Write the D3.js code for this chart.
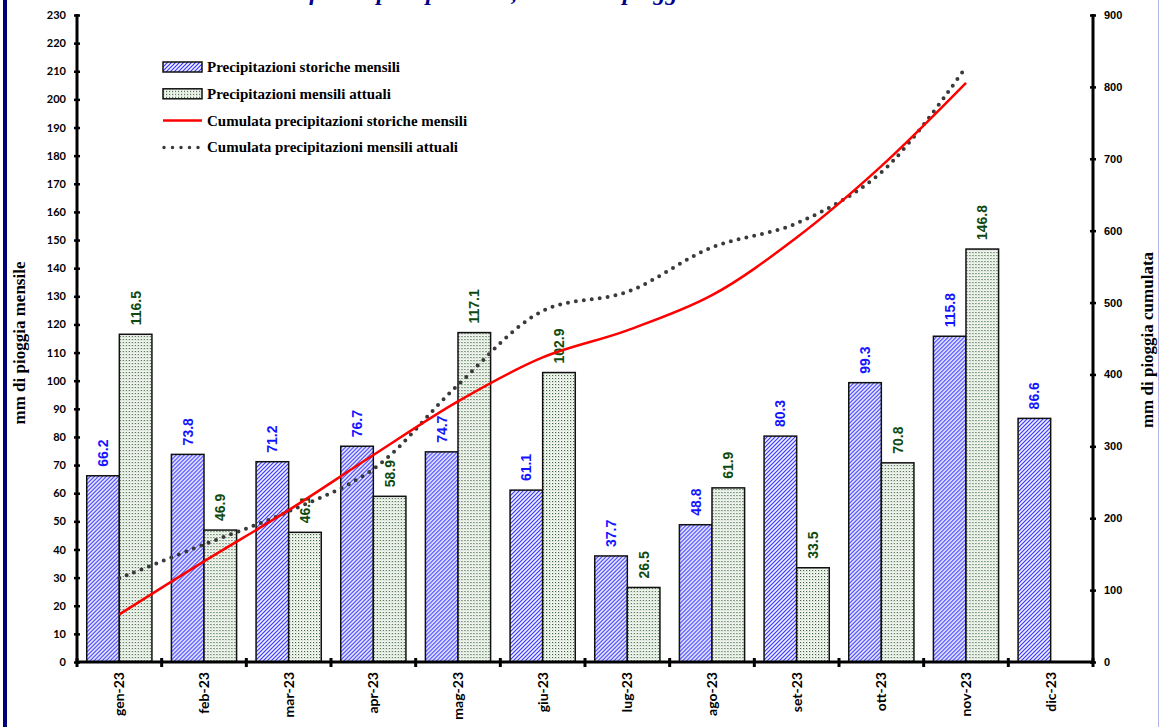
<!DOCTYPE html>
<html>
<head>
<meta charset="utf-8">
<script src="https://cdn.jsdelivr.net/npm/d3@7"></script>
<style>
  body { margin: 0; background: #fff; }
  svg { display: block; }
  .tick-l text { font-family: Lato, "Open Sans", sans-serif; font-weight: bold; font-size: 11px; }
  .tick-r text { font-family: "Liberation Sans Narrow", "Arial Narrow", sans-serif; font-weight: bold; font-size: 11px; }
</style>
</head>
<body>
<svg id="chart"></svg>
<script>
const months = ["gen-23", "feb-23", "mar-23", "apr-23", "mag-23", "giu-23", "lug-23", "ago-23", "set-23", "ott-23", "nov-23", "dic-23"];
const storiche = [66.2, 73.8, 71.2, 76.7, 74.7, 61.1, 37.7, 48.8, 80.3, 99.3, 115.8, 86.6];
const attuali = [116.5, 46.9, 46.1, 58.9, 117.1, 102.9, 26.5, 61.9, 33.5, 70.8, 146.8, null];
const leftTicks = d3.range(0, 231, 10);
const rightTicks = d3.range(0, 901, 100);
const legendLabels = [
  "Precipitazioni storiche mensili",
  "Precipitazioni mensili attuali",
  "Cumulata precipitazioni storiche mensili",
  "Cumulata precipitazioni mensili attuali"
];

const width = 1165;
const height = 727;

const svg = d3.select("#chart")
  .attr("width", width)
  .attr("height", height);

const defs = svg.append("defs");

// blue diagonal hatch
const hatch = defs.append("pattern")
  .attr("id", "hatch")
  .attr("patternUnits", "userSpaceOnUse")
  .attr("width", 4)
  .attr("height", 4);
hatch.append("rect").attr("width", 4).attr("height", 4).attr("fill", "#f4f4ff");
hatch.append("path")
  .attr("d", "M-1,1 l2,-2 M0,4 l4,-4 M3,5 l2,-2")
  .attr("stroke", "#3030ff")
  .attr("stroke-width", 1.15);

// green dotted
const dots = defs.append("pattern")
  .attr("id", "dots")
  .attr("patternUnits", "userSpaceOnUse")
  .attr("width", 3)
  .attr("height", 3);
dots.append("rect").attr("width", 3).attr("height", 3).attr("fill", "#f7faf5");
dots.append("rect").attr("x", 0).attr("y", 0).attr("width", 1.1).attr("height", 1.1).attr("fill", "#2d5a2d");
dots.append("rect").attr("x", 1.5).attr("y", 1.5).attr("width", 0.8).attr("height", 0.8).attr("fill", "#8aa58a");

// frame borders
svg.append("rect").attr("x", 3).attr("y", 0).attr("width", 4).attr("height", height).attr("fill", "#00007a");
svg.append("line").attr("x1", 1158.5).attr("x2", 1158.5).attr("y1", 0).attr("y2", height)
  .attr("stroke", "#b4b4e6").attr("stroke-width", 1);

// title (cut off at the top, as in the original picture)
svg.append("text")
  .attr("x", 268)
  .attr("y", 0)
  .attr("font-family", "Liberation Serif, serif")
  .attr("font-weight", "bold")
  .attr("font-style", "italic")
  .attr("font-size", 24)
  .attr("fill", "#00008b")
  .text("Confronto precipitazioni, cumulata pioggia");

const mLeft = 77, mRight = 1093, mTop = 15, mBottom = 662;

const x0 = d3.scaleBand()
  .domain(months)
  .range([mLeft, mRight])
  .paddingInner(0.23)
  .paddingOuter(0.115);

const x1 = d3.scaleBand()
  .domain(["s", "a"])
  .range([0, x0.bandwidth()]);

const yL = d3.scaleLinear().domain([0, 230]).range([mBottom, mTop]);
const yR = d3.scaleLinear().domain([0, 900]).range([mBottom, mTop]);

// bars
const groups = svg.append("g").selectAll("g")
  .data(months)
  .join("g")
  .attr("transform", d => `translate(${x0(d)},0)`);

groups.append("rect")
  .attr("x", x1("s"))
  .attr("width", x1.bandwidth())
  .attr("y", (d, i) => yL(storiche[i]))
  .attr("height", (d, i) => mBottom - yL(storiche[i]))
  .attr("fill", "url(#hatch)")
  .attr("stroke", "#111")
  .attr("stroke-width", 1.5);

groups.filter((d, i) => attuali[i] != null)
  .append("rect")
  .attr("x", x1("a"))
  .attr("width", x1.bandwidth())
  .attr("y", d => yL(attuali[months.indexOf(d)]))
  .attr("height", d => mBottom - yL(attuali[months.indexOf(d)]))
  .attr("fill", "url(#dots)")
  .attr("stroke", "#111")
  .attr("stroke-width", 1.5);

// cumulative lines
const cumS = [];
const cumA = [];
storiche.slice(0, 11).reduce((acc, v, i) => (cumS[i] = acc + v), 0);
attuali.slice(0, 11).reduce((acc, v, i) => (cumA[i] = acc + v), 0);

const line = d3.line()
  .x((d, i) => x0(months[i]) + x0.bandwidth() / 2)
  .y(d => yR(d))
  .curve(d3.curveCatmullRom.alpha(0.5));

svg.append("path")
  .datum(cumA)
  .attr("d", line)
  .attr("fill", "none")
  .attr("stroke", "#3a3a3a")
  .attr("stroke-width", 4)
  .attr("stroke-linecap", "round")
  .attr("stroke-dasharray", "0 8");

svg.append("path")
  .datum(cumS)
  .attr("d", line)
  .attr("fill", "none")
  .attr("stroke", "#ff0000")
  .attr("stroke-width", 2.5);

// value labels
const labelFont = "Liberation Sans, Arial, sans-serif";
groups.append("text")
  .attr("transform", (d, i) => `translate(${x1("s") + x1.bandwidth() / 2 + 5},${yL(storiche[i]) - 9}) rotate(-90)`)
  .attr("font-family", labelFont)
  .attr("font-weight", "bold")
  .attr("font-size", 14)
  .attr("fill", "#1414ff")
  .text((d, i) => storiche[i].toFixed(1));

groups.filter((d, i) => attuali[i] != null)
  .append("text")
  .attr("transform", d => `translate(${x1("a") + x1.bandwidth() / 2 + 5},${yL(attuali[months.indexOf(d)]) - 9}) rotate(-90)`)
  .attr("font-family", labelFont)
  .attr("font-weight", "bold")
  .attr("font-size", 14)
  .attr("fill", "#0f4a0f")
  .text(d => attuali[months.indexOf(d)].toFixed(1));

// axes
const axL = svg.append("g")
  .attr("class", "tick-l")
  .attr("transform", `translate(${mLeft},0)`)
  .call(d3.axisLeft(yL).tickValues(leftTicks).tickSize(3).tickPadding(8));
axL.select(".domain").attr("stroke-width", 3).attr("d", `M0,${mTop - 1}V${mBottom}`);
axL.selectAll(".tick line").attr("x1", -3).attr("x2", 3).attr("stroke-width", 2.5);

const axR = svg.append("g")
  .attr("class", "tick-r")
  .attr("transform", `translate(${mRight},0)`)
  .call(d3.axisRight(yR).tickValues(rightTicks).tickSize(3).tickPadding(8));
axR.select(".domain").attr("stroke-width", 3).attr("d", `M0,${mTop - 1}V${mBottom}`);
axR.selectAll(".tick line").attr("x1", -3).attr("x2", 3).attr("stroke-width", 2.5);

svg.append("line")
  .attr("x1", mLeft).attr("x2", mRight)
  .attr("y1", mBottom).attr("y2", mBottom)
  .attr("stroke", "#000").attr("stroke-width", 3);

const step = x0.step();
svg.append("g").selectAll("line")
  .data(d3.range(0, months.length + 1))
  .join("line")
  .attr("x1", i => mLeft + i * step)
  .attr("x2", i => mLeft + i * step)
  .attr("y1", mBottom - 4)
  .attr("y2", mBottom + 5)
  .attr("stroke", "#000")
  .attr("stroke-width", 3);

svg.append("g").selectAll("text")
  .data(months)
  .join("text")
  .attr("transform", d => `translate(${x0(d) + x0.bandwidth() / 2 + 5},${mBottom + 10}) rotate(-90)`)
  .attr("text-anchor", "end")
  .attr("font-family", "Lato, 'Open Sans', sans-serif")
  .attr("font-weight", "bold")
  .attr("font-size", 14)
  .text(d => d);

// axis titles
const serif = "Liberation Serif, 'Times New Roman', serif";
svg.append("text")
  .attr("transform", `translate(25,343) rotate(-90)`)
  .attr("text-anchor", "middle")
  .attr("font-family", serif)
  .attr("font-weight", "bold")
  .attr("font-size", 17)
  .text("mm di pioggia mensile");

svg.append("text")
  .attr("transform", `translate(1153,340) rotate(-90)`)
  .attr("text-anchor", "middle")
  .attr("font-family", serif)
  .attr("font-weight", "bold")
  .attr("font-size", 17)
  .text("mm di pioggia cumulata");

// legend
const legend = svg.append("g");
const rows = legend.selectAll("g")
  .data(legendLabels)
  .join("g")
  .attr("transform", (d, i) => `translate(163,${67 + i * 26.8})`);

rows.filter((d, i) => i === 0).append("rect")
  .attr("x", 0).attr("y", -5).attr("width", 39).attr("height", 10)
  .attr("fill", "url(#hatch)").attr("stroke", "#111").attr("stroke-width", 1.5);
rows.filter((d, i) => i === 1).append("rect")
  .attr("x", 0).attr("y", -5).attr("width", 39).attr("height", 10)
  .attr("fill", "url(#dots)").attr("stroke", "#111").attr("stroke-width", 1.5);
rows.filter((d, i) => i === 2).append("line")
  .attr("x1", 0).attr("x2", 39).attr("y1", 0).attr("y2", 0)
  .attr("stroke", "#ff0000").attr("stroke-width", 2.5);
rows.filter((d, i) => i === 3).append("line")
  .attr("x1", 1).attr("x2", 39).attr("y1", 0).attr("y2", 0)
  .attr("stroke", "#3a3a3a").attr("stroke-width", 3.5)
  .attr("stroke-linecap", "round").attr("stroke-dasharray", "0 8.5");

rows.append("text")
  .attr("x", 44)
  .attr("y", 5)
  .attr("font-family", serif)
  .attr("font-weight", "bold")
  .attr("font-size", 15)
  .text(d => d);
</script>
</body>
</html>
